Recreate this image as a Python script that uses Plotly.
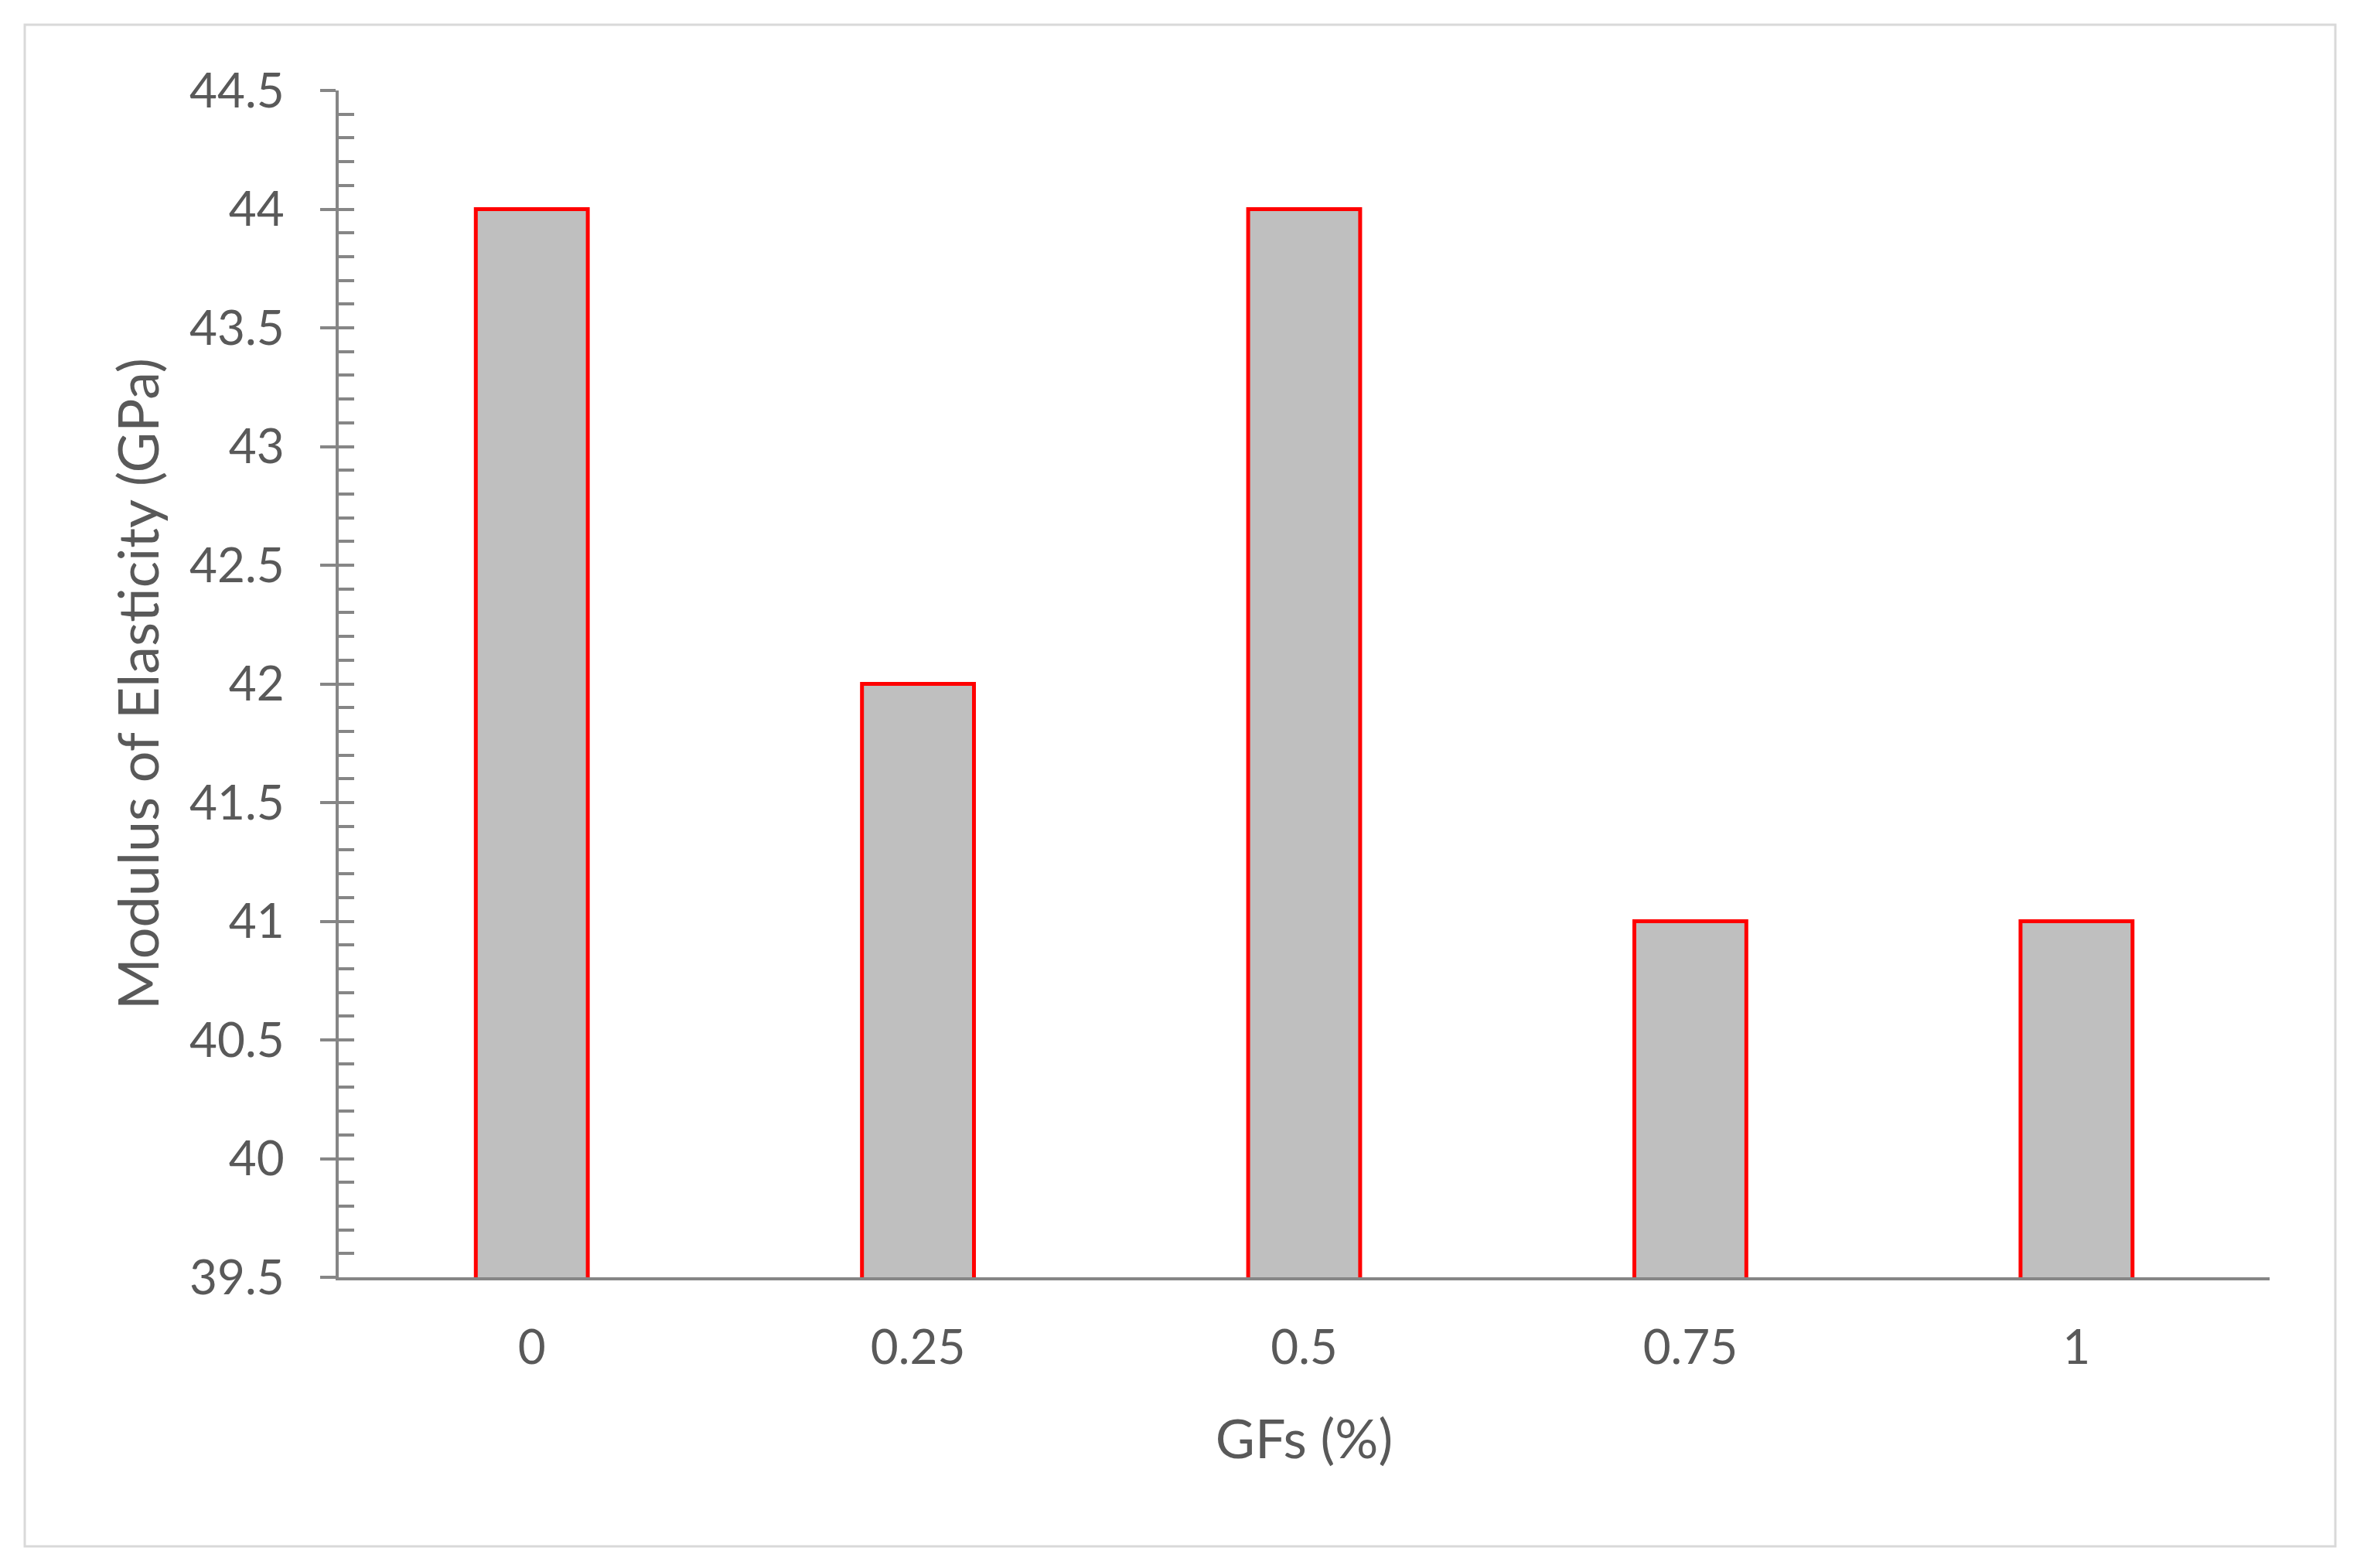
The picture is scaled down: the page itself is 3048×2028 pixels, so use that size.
import plotly.graph_objects as go

categories = ["0", "0.25", "0.5", "0.75", "1"]
modulus_gpa = [44, 42, 44, 41, 41]
y_tick_values = [39.5, 40, 40.5, 41, 41.5, 42, 42.5, 43, 43.5, 44, 44.5]
y_tick_labels = ["39.5", "40", "40.5", "41", "41.5", "42", "42.5", "43", "43.5", "44", "44.5"]

# the page body has an 8px margin; figure coordinates = screen - 8
OFF = 8
W, H = 3048 - 2 * OFF, 2028 - 2 * OFF
L = 438 - OFF
T = 117 - OFF
R = W - (2935 - OFF)
B = H - (1652 - OFF)
AX = "#868686"
TXT = "#595959"
FONT = "Lato"

fig = go.Figure()
fig.add_trace(go.Bar(
    x=categories, y=modulus_gpa,
    marker=dict(color="#bfbfbf", line=dict(color="#ff0000", width=5)),
    showlegend=False, hoverinfo="x+y",
))
# invisible helper trace so the inside-tick overlay axis is drawn
fig.add_trace(go.Scatter(
    x=categories, y=modulus_gpa, yaxis="y2", mode="none",
    showlegend=False, hoverinfo="skip",
))

pw = W - L - R
ph = H - T - B

fig.update_layout(
    width=W, height=H,
    paper_bgcolor="white", plot_bgcolor="white",
    margin=dict(l=L, r=R, t=T, b=B, pad=0),
    bargap=0.71,
    font=dict(family=FONT, color=TXT),
    xaxis=dict(
        type="category",
        showline=True, linecolor=AX, linewidth=4,
        ticks="", showgrid=False, zeroline=False,
        tickfont=dict(size=62, color=TXT, family=FONT),
        ticklabelstandoff=34,
        title=dict(text="GFs (%)", font=dict(size=70, color=TXT, family=FONT), standoff=62),
    ),
    yaxis=dict(
        range=[39.5, 44.5],
        tickvals=y_tick_values, ticktext=y_tick_labels,
        showline=True, linecolor=AX, linewidth=4,
        ticks="outside", ticklen=20, tickwidth=4, tickcolor=AX,
        showgrid=False, zeroline=False,
        tickfont=dict(size=62, color=TXT, family=FONT),
        ticklabelstandoff=34,
        title=dict(text="Modulus of Elasticity (GPa)", font=dict(size=72, color=TXT, family=FONT), standoff=17),
    ),
    yaxis2=dict(
        range=[39.5, 44.5], overlaying="y", side="left",
        tick0=39.5, dtick=0.1,
        ticks="inside", ticklen=20, tickwidth=4, tickcolor=AX,
        showticklabels=False, showgrid=False, zeroline=False, showline=False,
    ),
)

# outer chart-area border (screen coords 32..3020 x 32..2000)
bx0, bx1 = 32 - OFF, 3020 - OFF
by0, by1 = 32 - OFF, 2000 - OFF
fig.add_shape(
    type="rect", xref="paper", yref="paper",
    x0=(bx0 - L) / pw, x1=(bx1 - L) / pw,
    y0=(H - B - by1) / ph, y1=(H - B - by0) / ph,
    line=dict(color="#d9d9d9", width=3), fillcolor="rgba(0,0,0,0)",
    layer="below",
)

fig.write_html("out.html")
